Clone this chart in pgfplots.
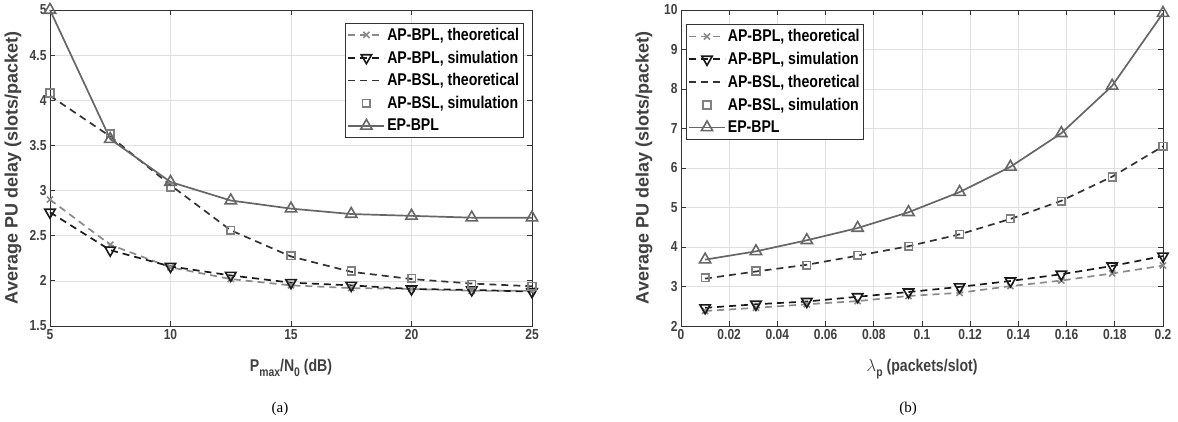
\documentclass[border=0pt]{standalone}
\usepackage{pgfplots}
\pgfplotsset{compat=1.18}
\usepackage{fontspec}
\setmainfont{Liberation Sans}
\newfontfamily\figfont{Liberation Sans}[FakeStretch=0.83]
\newfontfamily\capfont{Liberation Serif}
\definecolor{axgray}{HTML}{333333}
\definecolor{tickgray}{HTML}{404040}
\definecolor{gridgray}{HTML}{E0E0E0}
\definecolor{cTheo}{HTML}{8A8A8A}
\definecolor{cSim}{HTML}{1A1A1A}
\definecolor{cBSLt}{HTML}{333333}
\definecolor{cBSLs}{HTML}{808080}
\definecolor{cEP}{HTML}{666666}
\newcommand{\sub}[1]{\raisebox{-0.55ex}{\fontsize{12.5}{12.5}\selectfont #1}}
\pgfplotsset{
  myaxis/.style={
    scale only axis, width=482pt, height=316pt,
    axis line style={axgray, line width=0.8pt},
    tick style={axgray, line width=0.8pt},
    major tick length=5pt,
    tick align=inside,
    xtick pos=both, ytick pos=both,
    grid=major,
    major grid style={gridgray, line width=0.7pt},
    ticklabel style={font=\figfont\bfseries\fontsize{14.5}{14.5}\selectfont, text=tickgray},
    /pgf/number format/assume math mode=true,
    xlabel style={font=\figfont\bfseries\fontsize{17}{17}\selectfont, text=tickgray,
      at={(axis description cs:0.5,0)}, anchor=north, yshift=-30pt},
    ylabel style={font=\bfseries\fontsize{18}{18}\selectfont, text=tickgray,
      at={(axis description cs:0,0.5)}, anchor=south, yshift=25pt},
    legend style={draw=axgray, line width=0.7pt, fill=white,
      font=\figfont\bfseries\fontsize{17}{17}\selectfont,
      inner xsep=2pt, inner ysep=3pt, row sep=5pt,
      cells={anchor=west}},
    legend image code/.code={\draw[mark repeat=2,mark phase=2,##1] plot coordinates {(0pt,0pt) (18pt,0pt) (36pt,0pt)};},
  },
  sTheo/.style={cTheo, line width=1.7pt, dash pattern=on 7pt off 5pt, mark=x, mark size=4.3pt, mark options={solid, line width=1.6pt}},
  sSim/.style={cSim, line width=1.7pt, dash pattern=on 7pt off 5pt, mark=triangle, mark size=6pt, mark options={solid, rotate=180, line width=1.6pt}},
  sBSLt/.style={cBSLt, line width=1.7pt, dash pattern=on 7pt off 5pt, mark=none},
  sBSLs/.style={cBSLs, only marks, mark=square, mark size=3.8pt, mark options={solid, line width=1.6pt}},
  sEP/.style={cEP, line width=1.7pt, solid, mark=triangle, mark size=6.5pt, mark options={solid, line width=1.6pt}},
}
\begin{document}
\begin{tikzpicture}
\path[use as bounding box] (0pt,0pt) rectangle (1178pt,422pt);
\begin{axis}[myaxis, at={(50pt,96pt)}, anchor=south west,
  xmin=5, xmax=25, ymin=1.5, ymax=5,
  xtick={5,10,15,20,25}, ytick={1.5,2,2.5,3,3.5,4,4.5,5},
  yticklabels={1.5,2,2.5,3,3.5,4,4.5,5},
  xlabel={P\sub{max}/N\sub{0} (dB)},
  ylabel={Average PU delay (slots/packet)},
  legend style={at={(0.982,0.96)}, anchor=north east},
  clip=false]
\addplot[sTheo] coordinates {(5,2.90) (7.5,2.40) (10,2.15) (12.5,2.02) (15,1.95) (17.5,1.92) (20,1.91) (22.5,1.89) (25,1.89)};
\addlegendentry{AP-BPL, theoretical}
\addplot[sSim] coordinates {(5,2.76) (7.5,2.34) (10,2.16) (12.5,2.06) (15,1.98) (17.5,1.95) (20,1.91) (22.5,1.90) (25,1.88)};
\addlegendentry{AP-BPL, simulation}
\addplot[sBSLt] coordinates {(5,4.05) (7.5,3.60) (10,3.06) (12.5,2.56) (15,2.27) (17.5,2.10) (20,2.02) (22.5,1.97) (25,1.94)};
\addlegendentry{AP-BSL, theoretical}
\addplot[sBSLs] coordinates {(5,4.08) (7.5,3.63) (10,3.04) (12.5,2.56) (15,2.28) (17.5,2.11) (20,2.03) (22.5,1.96) (25,1.94)};
\addlegendentry{AP-BSL, simulation}
\addplot[sEP] coordinates {(5,5.00) (7.5,3.57) (10,3.095) (12.5,2.89) (15,2.80) (17.5,2.74) (20,2.72) (22.5,2.70) (25,2.70)};
\addlegendentry{EP-BPL}
\end{axis}
\node[font=\capfont\fontsize{15}{15}\selectfont] at (280pt,13pt) {(a)};
\begin{axis}[myaxis, at={(681pt,96pt)}, anchor=south west,
  xmin=0, xmax=0.2, ymin=2, ymax=10,
  xtick={0,0.02,0.04,0.06,0.08,0.1,0.12,0.14,0.16,0.18,0.2},
  xticklabels={0,0.02,0.04,0.06,0.08,0.1,0.12,0.14,0.16,0.18,0.2},
  ytick={2,3,4,5,6,7,8,9,10},
  yticklabels={2,3,4,5,6,7,8,9,10},
  xlabel={$\lambda$\sub{p} (packets/slot)},
  ylabel={Average PU delay (slots/packet)},
  legend style={at={(0.01,0.955)}, anchor=north west},
  clip=false]
\addplot[sTheo] coordinates {(0.01,2.38) (0.0311,2.46) (0.0522,2.55) (0.0733,2.63) (0.0944,2.76) (0.1156,2.84) (0.1367,3.01) (0.1578,3.15) (0.1789,3.33) (0.2,3.53)};
\addlegendentry{AP-BPL, theoretical}
\addplot[sSim] coordinates {(0.01,2.46) (0.0311,2.55) (0.0522,2.62) (0.0733,2.74) (0.0944,2.86) (0.1156,2.99) (0.1367,3.14) (0.1578,3.31) (0.1789,3.52) (0.2,3.77)};
\addlegendentry{AP-BPL, simulation}
\addplot[sBSLt] coordinates {(0.01,3.20) (0.0311,3.38) (0.0522,3.55) (0.0733,3.78) (0.0944,4.02) (0.1156,4.32) (0.1367,4.71) (0.1578,5.17) (0.1789,5.78) (0.2,6.55)};
\addlegendentry{AP-BSL, theoretical}
\addplot[sBSLs] coordinates {(0.01,3.22) (0.0311,3.39) (0.0522,3.54) (0.0733,3.79) (0.0944,4.02) (0.1156,4.32) (0.1367,4.72) (0.1578,5.16) (0.1789,5.77) (0.2,6.55)};
\addlegendentry{AP-BSL, simulation}
\addplot[sEP] coordinates {(0.01,3.68) (0.0311,3.89) (0.0522,4.17) (0.0733,4.48) (0.0944,4.88) (0.1156,5.39) (0.1367,6.03) (0.1578,6.88) (0.1789,8.08) (0.2,9.92)};
\addlegendentry{EP-BPL}
\end{axis}
\node[font=\capfont\fontsize{15}{15}\selectfont] at (908pt,13pt) {(b)};
\end{tikzpicture}
\end{document}
